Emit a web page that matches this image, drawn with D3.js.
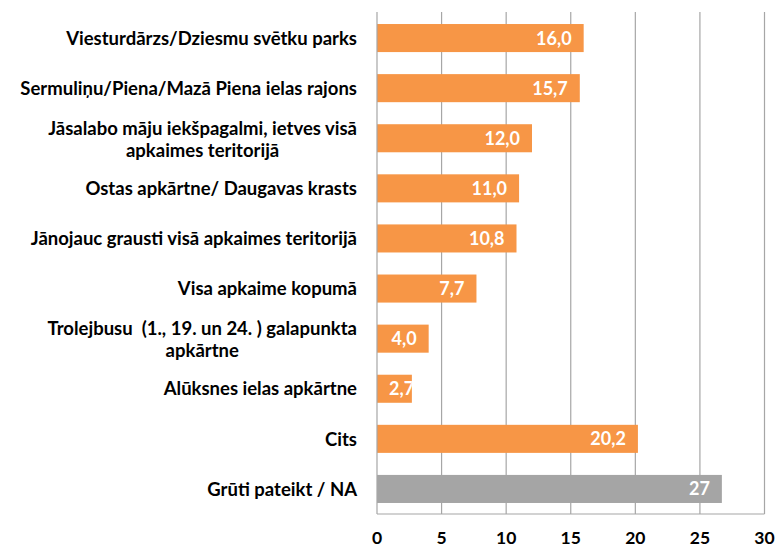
<!DOCTYPE html>
<html><head><meta charset="utf-8">
<script src="https://cdn.jsdelivr.net/npm/d3@7"></script>
<style>body{margin:0;background:#fff}svg{display:block}</style>
</head><body>
<svg id="c" width="780" height="548"></svg>
<script>
const categories = [
  ["Viesturdārzs/Dziesmu svētku parks"],
  ["Sermuliņu/Piena/Mazā Piena ielas rajons"],
  ["Jāsalabo māju iekšpagalmi, ietves visā", "apkaimes teritorijā"],
  ["Ostas apkārtne/ Daugavas krasts"],
  ["Jānojauc grausti visā apkaimes teritorijā"],
  ["Visa apkaime kopumā"],
  ["Trolejbusu  (1., 19. un 24. ) galapunkta", "apkārtne"],
  ["Alūksnes ielas apkārtne"],
  ["Cits"],
  ["Grūti pateikt / NA"]
];
const values = [16.0, 15.7, 12.0, 11.0, 10.8, 7.7, 4.0, 2.7, 20.2, 26.7];
const valueLabels = ["16,0", "15,7", "12,0", "11,0", "10,8", "7,7", "4,0", "2,7", "20,2", "27"];
const barColors = ["#F79646","#F79646","#F79646","#F79646","#F79646","#F79646","#F79646","#F79646","#F79646","#A5A5A5"];
const xTicks = [0, 5, 10, 15, 20, 25, 30];

(function () {
const svg = d3.select("#c");
const pLeft = 377, pRight = 764.5, pTop = 13, pBottom = 514;
const font = "Lato, 'Open Sans', sans-serif";

const x = d3.scaleLinear().domain([0, 30]).range([pLeft, pRight]);
const y = d3.scaleBand().domain(d3.range(categories.length)).range([pTop, pBottom]).paddingInner(0.44).paddingOuter(0.22);

// gridlines
svg.append("g").selectAll("line").data(xTicks.slice(1)).join("line")
  .attr("x1", d => x(d)).attr("x2", d => x(d))
  .attr("y1", pTop - 1).attr("y2", pBottom)
  .attr("stroke", "#A6A6A6").attr("stroke-width", 1.2);

// bars
const clipDefs = svg.append("defs");
values.forEach((v, i) => {
  clipDefs.append("clipPath").attr("id", "cl" + i).append("rect")
    .attr("x", x(0)).attr("y", y(i)).attr("width", x(v) - x(0)).attr("height", y.bandwidth());
});
svg.append("g").selectAll("rect").data(values).join("rect")
  .attr("x", x(0)).attr("y", (d, i) => y(i))
  .attr("width", d => x(d) - x(0)).attr("height", y.bandwidth())
  .attr("fill", (d, i) => barColors[i]);

// value labels
svg.append("g").selectAll("text").data(values).join("text")
  .attr("clip-path", (d, i) => `url(#cl${i})`)
  .attr("y", (d, i) => y(i) + y.bandwidth() / 2)
  .attr("dy", "0.36em").attr("text-anchor", "end")
  .attr("fill", "#fff").attr("font-family", font).attr("font-weight", 700).attr("font-size", 18)
  .text((d, i) => valueLabels[i])
  .each(function (d) {
    const w = this.getComputedTextLength();
    d3.select(this).attr("x", Math.max(x(d) - 12, x(0) + 12 + w));
  });

// axes lines
svg.append("line").attr("x1", pLeft).attr("x2", pLeft).attr("y1", pTop - 1).attr("y2", pBottom)
  .attr("stroke", "#A6A6A6").attr("stroke-width", 1.2);
svg.append("line").attr("x1", pLeft).attr("x2", pRight).attr("y1", pBottom).attr("y2", pBottom)
  .attr("stroke", "#A6A6A6").attr("stroke-width", 1.2);

// x tick labels
svg.append("g").selectAll("text").data(xTicks).join("text")
  .attr("x", d => x(d)).attr("y", 544).attr("text-anchor", "middle")
  .attr("font-family", font).attr("font-weight", 700).attr("font-size", 17.5).attr("fill", "#000")
  .text(d => d);

// category labels
const lh = 22;
const cat = svg.append("g");
categories.forEach((lines, i) => {
  const cy = y(i) + y.bandwidth() / 2;
  const t = cat.append("text").attr("font-family", font).attr("font-weight", 700)
    .attr("font-size", 18.5).attr("fill", "#000").style("white-space", "pre");
  lines.forEach((ln, j) => {
    t.append("tspan").attr("y", cy + (j - (lines.length - 1) / 2) * lh + (lines.length > 1 ? 1 : 0))
      .attr("dy", "0.36em").text(ln);
  });
  const tspans = t.selectAll("tspan").nodes();
  const widths = tspans.map(n => n.getComputedTextLength());
  const maxW = d3.max(widths);
  const cx = 357 - maxW / 2;
  tspans.forEach(n => d3.select(n).attr("x", cx).attr("text-anchor", "middle"));
});
})();
</script>
</body></html>
